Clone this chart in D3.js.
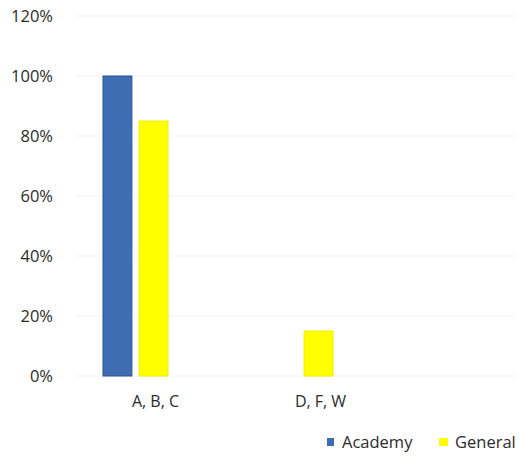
<!DOCTYPE html>
<html>
<head>
<meta charset="utf-8">
<script src="https://cdn.jsdelivr.net/npm/d3@7"></script>
<style>
  html, body { margin: 0; padding: 0; background: #ffffff; }
  svg { display: block; font-family: "Open Sans", "Noto Sans", sans-serif; }
</style>
</head>
<body>
<svg id="chart" width="520" height="457"></svg>
<script>
// Grade groups and the share of each school type in them
const categories = ["A, B, C", "D, F, W"];
const seriesNames = ["Academy", "General"];
const academyValues = [1.00, 0.00];
const generalValues = [0.85, 0.15];
const yTicks = [0, 0.2, 0.4, 0.6, 0.8, 1.0, 1.2];
const colors = { Academy: "#3f6db4", General: "#ffff00" };
const strokes = { Academy: "#2d5395", General: "#f2ee00" };

const svg = d3.select("#chart");
const margin = { top: 16, bottom: 81 };
const height = 457;

const y = d3.scaleLinear().domain([0, 1.2]).range([height - margin.bottom, margin.top]);
const x0 = d3.scaleBand().domain(categories).range([70, 400]).paddingInner(0).paddingOuter(0);
const x1 = d3.scaleBand().domain(seriesNames).range([33, 98]).paddingInner(0.2);

// Faint horizontal gridlines
svg.append("g")
  .selectAll("line")
  .data(yTicks)
  .join("line")
  .attr("x1", 75).attr("x2", 515)
  .attr("y1", d => y(d)).attr("y2", d => y(d))
  .attr("stroke", "#f3f3f3").attr("stroke-width", 1);

// Y axis labels
const yAxis = d3.axisLeft(y).tickValues(yTicks).tickFormat(d3.format(".0%")).tickSize(0).tickPadding(0);
const gy = svg.append("g").attr("transform", "translate(53,0)").call(yAxis);
gy.select(".domain").remove();
gy.selectAll("text")
  .attr("font-size", 16.5).attr("fill", "#2b2b2b")
  .attr("font-family", "'Open Sans', sans-serif");

// Bars
const rows = categories.map((c, i) => ({ cat: c, Academy: academyValues[i], General: generalValues[i] }));
const groups = svg.append("g").selectAll("g")
  .data(rows)
  .join("g")
  .attr("transform", d => `translate(${x0(d.cat)},0)`);

groups.selectAll("rect")
  .data(d => seriesNames.map(s => ({ s, v: d[s] })).filter(e => e.v > 0))
  .join("rect")
  .attr("x", d => x1(d.s))
  .attr("width", x1.bandwidth())
  .attr("y", d => y(d.v))
  .attr("height", d => y(0) - y(d.v))
  .attr("fill", d => colors[d.s])
  .attr("stroke", d => strokes[d.s])
  .attr("stroke-width", 1);

// X axis category labels
const xAxis = d3.axisBottom(x0).tickSize(0).tickPadding(0);
const gx = svg.append("g").attr("transform", `translate(0,${y(0) + 31})`).call(xAxis);
gx.select(".domain").remove();
gx.selectAll("text")
  .attr("dy", 0)
  .attr("x", 3)
  .attr("font-size", 16).attr("fill", "#2b2b2b")
  .attr("font-family", "'Open Sans', sans-serif");

// Legend
const legendItems = [
  { name: "Academy", x: 327 },
  { name: "General", x: 439 }
];
const legend = svg.append("g").selectAll("g")
  .data(legendItems)
  .join("g")
  .attr("transform", d => `translate(${d.x},438)`);
legend.append("rect")
  .attr("width", d => d.name === "Academy" ? 7 : 9)
  .attr("height", 8)
  .attr("fill", d => colors[d.name]);
legend.append("text")
  .attr("x", d => d.name === "Academy" ? 15 : 16)
  .attr("y", 10)
  .attr("font-size", 16.5).attr("fill", "#2b2b2b")
  .text(d => d.name);
</script>
</body>
</html>
